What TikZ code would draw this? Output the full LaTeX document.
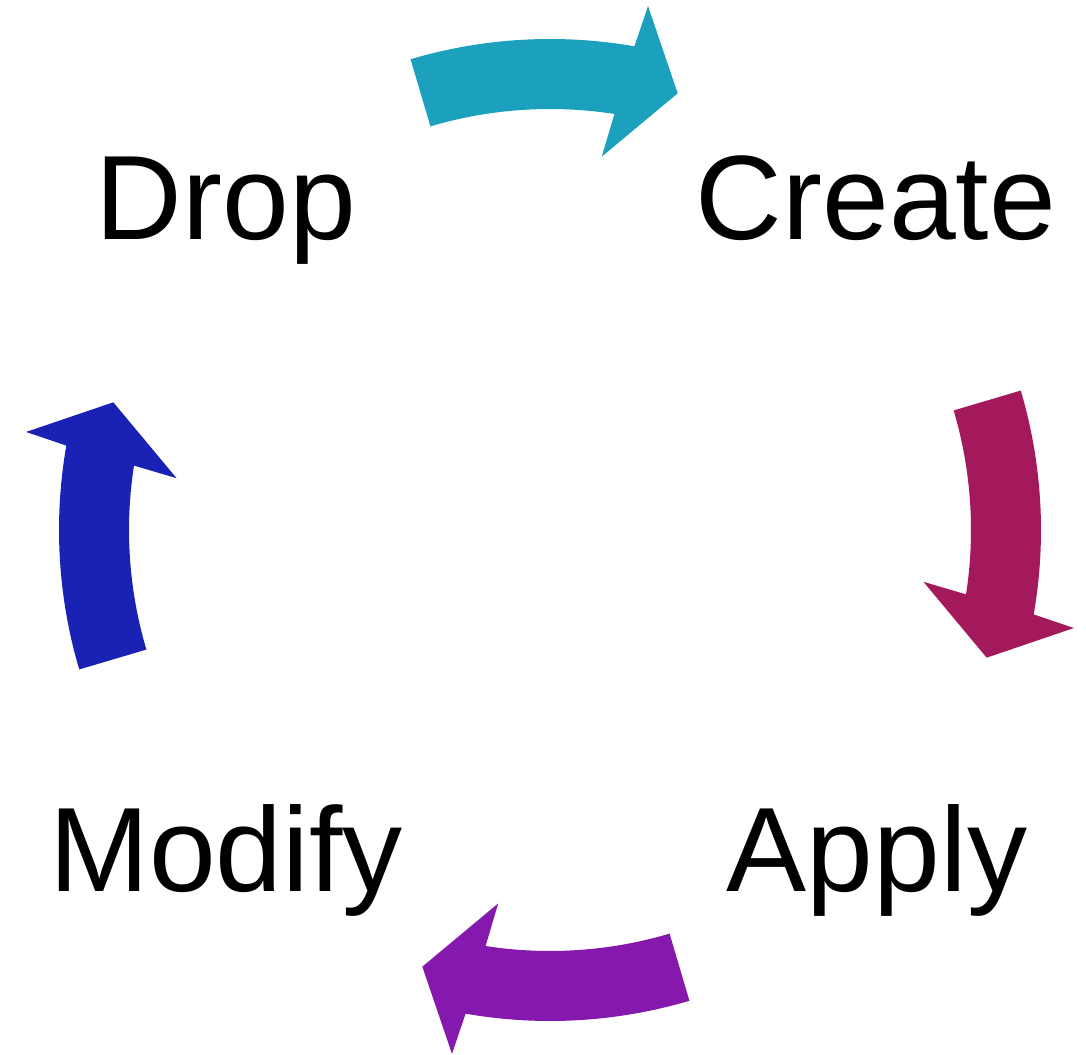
\documentclass[tikz,border=0pt]{standalone}
\usepackage{fontspec}
\setmainfont{Liberation Sans}
\definecolor{cycteal}{HTML}{1BA1BD}
\definecolor{cyccrimson}{HTML}{A3195B}
\definecolor{cycpurple}{HTML}{8619AD}
\definecolor{cycblue}{HTML}{1A22B5}
% Curved block arrow on the ring around (550,524), centred on angle #1, turning clockwise
\newcommand{\cyclearrow}[2]{%
  \fill[#2, shift={(550,524)}]
    ({#1+16.5}:491) arc[start angle={#1+16.5}, end angle={#1-9.9}, radius=491]
    -- ({#1-10.6}:533) -- ({#1-16.3}:455) -- ({#1-7.9}:377) -- ({#1-8.8}:421)
    arc[start angle={#1-8.8}, end angle={#1+16.5}, radius=421] -- cycle;}
\tikzset{
  stage/.style={font=\fontsize{60}{72}\selectfont, inner sep=0pt, anchor=base}
}
\begin{document}
\begin{tikzpicture}[x=0.5pt, y=0.5pt]
  \useasboundingbox (0,0) rectangle (1086,1054);
  \cyclearrow{90}{cycteal}
  \cyclearrow{0}{cyccrimson}
  \cyclearrow{-90}{cycpurple}
  \cyclearrow{180}{cycblue}
  \node[stage] (drop)   at (226,814) {Drop};
  \node[stage] (create) at (876,814) {Create};
  \node[stage] (modify) at (226,162) {Modify};
  \node[stage] (apply)  at (877,162) {Apply};
\end{tikzpicture}
\end{document}
